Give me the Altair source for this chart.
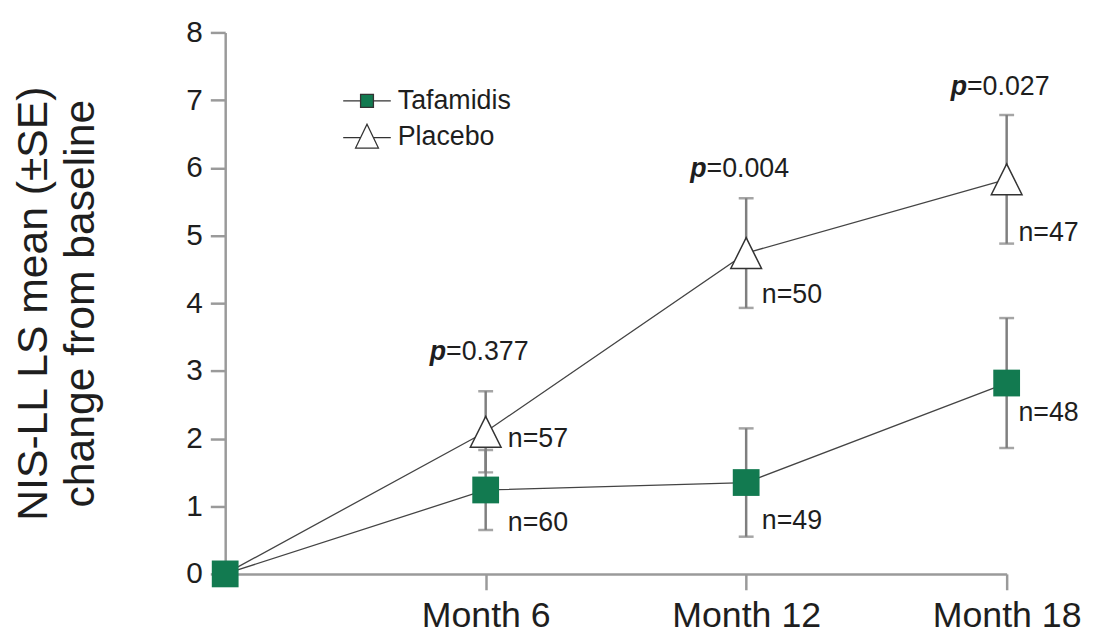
import altair as alt
import pandas as pd

# ---------------- data ----------------
months = [0, 6, 12, 18]
series_names = ["Tafamidis", "Placebo"]

taf_mean = [0.0, 1.24, 1.35, 2.82]
taf_se = [0.0, 0.59, 0.80, 0.96]
taf_n = ["", "n=60", "n=49", "n=48"]

pla_mean = [0.0, 2.10, 4.74, 5.83]
pla_se = [0.0, 0.60, 0.81, 0.95]
pla_n = ["", "n=57", "n=50", "n=47"]

# annotation anchors (data units)
taf_n_x = [0, 6.51, 12.36, 18.27]
taf_n_y = [0, 0.75, 0.78, 2.37]
pla_n_x = [0, 6.51, 12.36, 18.27]
pla_n_y = [0, 1.99, 4.12, 5.04]

p_months = [6, 12, 18]
p_values = ["=0.377", "=0.004", "=0.027"]
p_label_y = [3.28, 5.98, 7.19]

# ---------------- tables ----------------
rows = []
for name, mean, se, n, nx, ny in [
    ("Tafamidis", taf_mean, taf_se, taf_n, taf_n_x, taf_n_y),
    ("Placebo", pla_mean, pla_se, pla_n, pla_n_x, pla_n_y),
]:
    for m, v, s, lab, lx, ly in zip(months, mean, se, n, nx, ny):
        rows.append(dict(series=name, month=m, mean=v, lo=v - s, hi=v + s,
                         n=lab, nx=lx, ny=ly))
df = pd.DataFrame(rows)
pdf = pd.DataFrame(dict(month=p_months, y=p_label_y, txt=p_values))

GREEN = "#127a50"
TEXT = "#1e1e1e"
AXIS = "#9a9a9a"
ERR = "#7f7f7f"
FONT = "Liberation Sans"

x_scale = alt.Scale(domain=[0, 18], nice=False, zero=True)
y_scale = alt.Scale(domain=[0, 8], nice=False)

x_axis = alt.Axis(values=[6, 12, 18], labelExpr="'Month ' + datum.value",
                  title=None, labelFontSize=36, labelColor=TEXT, labelFont=FONT,
                  labelFlush=False, labelOverlap=False,
                  tickSize=16, tickWidth=2.5, tickColor=AXIS,
                  domainColor=AXIS, domainWidth=2.5, labelPadding=9, grid=False)
y_axis = alt.Axis(values=list(range(9)), format="d",
                  title=["NIS-LL LS mean (\u00b1SE)", "change from baseline"],
                  titleFontSize=43, titleFontWeight="normal", titleColor=TEXT,
                  titleFont=FONT, titlePadding=84, titleLineHeight=47,
                  labelFontSize=30, labelColor=TEXT, labelFont=FONT,
                  labelFlush=False, labelOverlap=False,
                  tickSize=15, tickWidth=2.5, tickColor=AXIS,
                  domainColor=AXIS, domainWidth=2.5, labelPadding=8, grid=False)

base = alt.Chart(df)

lines = base.mark_line(color="#444444", strokeWidth=1.3).encode(
    x=alt.X("month:Q", scale=x_scale, axis=x_axis),
    y=alt.Y("mean:Q", scale=y_scale, axis=y_axis),
    detail="series:N",
)

err_df = base.transform_filter("datum.month > 0")
err = err_df.mark_rule(color=ERR, strokeWidth=2.5).encode(
    x="month:Q", y="lo:Q", y2="hi:Q")
cap_lo = err_df.mark_tick(orient="horizontal", size=15, thickness=2.5, color=ERR).encode(
    x="month:Q", y="lo:Q")
cap_hi = err_df.mark_tick(orient="horizontal", size=15, thickness=2.5, color=ERR).encode(
    x="month:Q", y="hi:Q")

taf_pts = base.transform_filter("datum.series == 'Tafamidis'").mark_point(
    shape="square", filled=True, fill=GREEN, size=729, opacity=1, strokeWidth=0
).encode(x="month:Q", y="mean:Q")

TRI = "M0,-1L1,1H-1Z"
pla_pts = base.transform_filter("datum.series == 'Placebo' && datum.month > 0").mark_point(
    shape=TRI, filled=True, fill="white", stroke="#333333", strokeWidth=1.5,
    size=961, opacity=1
).encode(x="month:Q", y="mean:Q")

LEG_SQ = "M-1,0H-0.27M0.27,0H1M-0.27,-0.27H0.27V0.27H-0.27Z"
LEG_TRI = "M-1,0H-0.27M0.27,0H1M0,-0.56L0.48,0.44H-0.48Z"
legend = alt.Legend(title=None, orient="none", legendX=118, legendY=54,
                    labelFontSize=27, labelColor=TEXT, labelFont=FONT,
                    symbolSize=2304, clipHeight=30, rowPadding=7, labelOffset=6,
                    symbolOpacity=1, symbolStrokeWidth=1.3)
legend_layer = base.mark_point(filled=False, opacity=0, size=2304).encode(
    x="month:Q", y="mean:Q",
    shape=alt.Shape("series:N", scale=alt.Scale(domain=series_names, range=[LEG_SQ, LEG_TRI]),
                    legend=legend),
    fill=alt.Fill("series:N", scale=alt.Scale(domain=series_names, range=[GREEN, "white"]),
                  legend=legend),
    stroke=alt.Stroke("series:N", scale=alt.Scale(domain=series_names, range=["#333333", "#333333"]),
                      legend=legend),
)

n_text = base.transform_filter("datum.month > 0").mark_text(
    align="left", baseline="middle", fontSize=27, color=TEXT, font=FONT
).encode(x="nx:Q", y="ny:Q", text="n:N")

pbase = alt.Chart(pdf)
p_letter = pbase.mark_text(align="right", baseline="middle", dx=-40, fontSize=27,
                           fontStyle="italic", fontWeight="bold", color=TEXT, font=FONT
                           ).encode(x="month:Q", y="y:Q", text=alt.value("p"))
p_rest = pbase.mark_text(align="left", baseline="middle", dx=-40, fontSize=27,
                         color=TEXT, font=FONT
                         ).encode(x="month:Q", y="y:Q", text="txt:N")

chart = alt.layer(lines, err, cap_lo, cap_hi, legend_layer, taf_pts, pla_pts,
                  n_text, p_letter, p_rest).properties(
    width=788, height=546,
    autosize=alt.AutoSizeParams(type="none"),
    padding={"left": 219, "top": 22, "right": 80, "bottom": 62},
    background="white",
).configure_view(stroke=None)

chart.save("out.html", embed_options={"renderer": "svg", "actions": False})
